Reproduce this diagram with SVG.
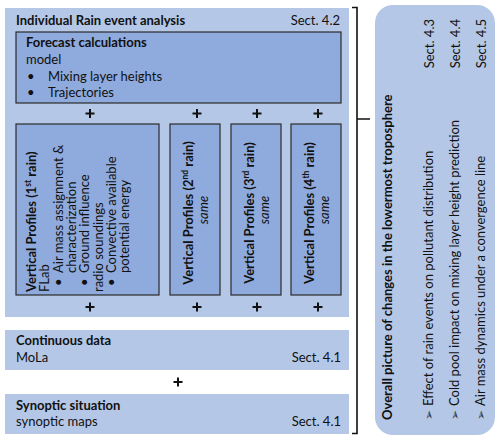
<svg xmlns="http://www.w3.org/2000/svg" width="500" height="441" viewBox="0 0 500 441">
<style>
  .panel{fill:#b4c7e7;}
  .box{fill:#8faadc;stroke:#2b2b2b;stroke-width:1.2;}
  text{font-family:Lato,"Liberation Sans",sans-serif;font-size:13px;fill:#111;}
  .b{font-weight:bold;}
  .i{font-style:italic;}
  .end{text-anchor:end;}
  .mid{text-anchor:middle;}
  .sup{font-size:8.5px;}
  .plus{stroke:#111;stroke-width:2;fill:none;}
  .brk{stroke:#111;stroke-width:1.6;fill:none;}
  .bul{font-family:"DejaVu Sans",sans-serif;font-size:12px;fill:#333;}
</style>
<defs>
  <path id="plus" class="plus" d="M-4.5,0H4.5M0,-4.5V4.5"/>
</defs>

<g id="rain-event-analysis">
  <rect class="panel" x="5" y="8" width="344" height="309"/>
  <text class="b" x="16" y="25">Individual Rain event analysis</text>
  <text class="end" x="340" y="25">Sect. 4.2</text>
</g>

<g id="forecast-calculations">
  <rect class="box" x="16" y="32" width="325" height="71"/>
  <text class="b" x="26" y="47">Forecast calculations</text>
  <text x="26" y="64">model</text>
  <text x="27" y="81">•</text>
  <text x="48" y="81">Mixing layer heights</text>
  <text x="27" y="97">•</text>
  <text x="48" y="97">Trajectories</text>
</g>

<g id="vertical-profiles-1">
  <rect class="box" x="16" y="124" width="143" height="171"/>
  <g transform="rotate(-90)">
    <text class="b" x="-292" y="36">Vertical Profiles (1<tspan class="sup" dy="-5">st</tspan><tspan dy="5"> rain)</tspan></text>
    <text x="-292" y="49.3">FLab</text>
    <text x="-286" y="62.6">•</text>
    <text x="-273" y="62.6">Air mass assignment &amp;</text>
    <text x="-273" y="75.9">characterization</text>
    <text x="-286" y="89.2">•</text>
    <text x="-273" y="89.2">Ground influence</text>
    <text x="-292" y="102.5">radio soundings</text>
    <text x="-286" y="115.8">•</text>
    <text x="-273" y="115.8">Convective available</text>
    <text x="-273" y="129.1">potential energy</text>
  </g>
</g>

<g id="vertical-profiles-2">
  <rect class="box" x="170" y="124" width="50" height="171"/>
  <g transform="rotate(-90)">
    <text class="b mid" x="-213" y="193">Vertical Profiles (2<tspan class="sup" dy="-5">nd</tspan><tspan dy="5"> rain)</tspan></text>
    <text class="i mid" x="-210" y="208">same</text>
  </g>
</g>

<g id="vertical-profiles-3">
  <rect class="box" x="231" y="124" width="50" height="171"/>
  <g transform="rotate(-90)">
    <text class="b mid" x="-213" y="254">Vertical Profiles (3<tspan class="sup" dy="-5">rd</tspan><tspan dy="5"> rain)</tspan></text>
    <text class="i mid" x="-210" y="269">same</text>
  </g>
</g>

<g id="vertical-profiles-4">
  <rect class="box" x="291" y="124" width="50" height="171"/>
  <g transform="rotate(-90)">
    <text class="b mid" x="-213" y="314">Vertical Profiles (4<tspan class="sup" dy="-5">th</tspan><tspan dy="5"> rain)</tspan></text>
    <text class="i mid" x="-210" y="329">same</text>
  </g>
</g>

<g id="continuous-data">
  <rect class="panel" x="5" y="330" width="344" height="40"/>
  <text class="b" x="16" y="345">Continuous data</text>
  <text x="16" y="362">MoLa</text>
  <text class="end" x="341" y="362">Sect. 4.1</text>
</g>

<g id="synoptic-situation">
  <rect class="panel" x="5" y="394" width="344" height="40"/>
  <text class="b" x="16" y="410">Synoptic situation</text>
  <text x="16" y="426">synoptic maps</text>
  <text class="end" x="341" y="426">Sect. 4.1</text>
</g>

<g id="overall-picture">
  <rect class="panel" x="375" y="5" width="120" height="430" rx="18" ry="18"/>
  <g transform="rotate(-90)">
    <text class="b" x="-420" y="392">Overall picture of changes in the lowermost troposphere</text>
    <text class="bul" x="-420" y="433">➢</text>
    <text x="-406" y="433">Effect of rain events on pollutant distribution</text>
    <text class="end" x="-19" y="434">Sect. 4.3</text>
    <text class="bul" x="-420" y="459">➢</text>
    <text x="-406" y="459">Cold pool impact on mixing layer height prediction</text>
    <text class="end" x="-19" y="460">Sect. 4.4</text>
    <text class="bul" x="-420" y="485">➢</text>
    <text x="-406" y="485">Air mass dynamics under a convergence line</text>
    <text class="end" x="-19" y="486">Sect. 4.5</text>
  </g>
</g>

<g id="connectors">
  <use href="#plus" x="90" y="113.5"/>
  <use href="#plus" x="197" y="113.5"/>
  <use href="#plus" x="257" y="113.5"/>
  <use href="#plus" x="318" y="113.5"/>
  <use href="#plus" x="90" y="307"/>
  <use href="#plus" x="197" y="307"/>
  <use href="#plus" x="257" y="307"/>
  <use href="#plus" x="318" y="307"/>
  <use href="#plus" x="178" y="382"/>
  <path class="brk" d="M352,7.5H357V433.5H352M357,119H370"/>
</g>
</svg>
